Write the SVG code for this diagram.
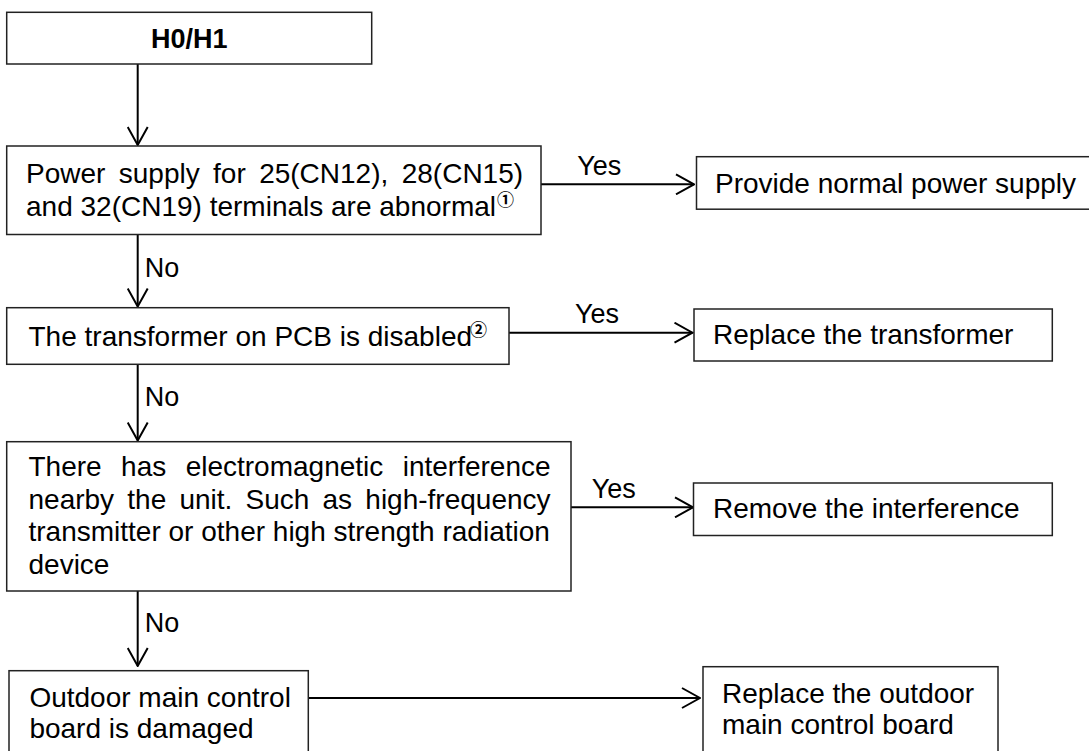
<svg xmlns="http://www.w3.org/2000/svg" width="1089" height="751" viewBox="0 0 1089 751">
<style>
  .box { fill: #ffffff; stroke: #222222; stroke-width: 1.5; }
  .t { font-family: "Liberation Sans", Arial, sans-serif; font-size: 28px; fill: #000000; }
  .tb { font-family: "Liberation Sans", Arial, sans-serif; font-size: 27px; font-weight: bold; fill: #000000; }
  .lbl { font-family: "Liberation Sans", Arial, sans-serif; font-size: 27px; fill: #000000; }
  .sup { font-family: "Noto Sans CJK SC", "DejaVu Sans", sans-serif; font-size: 17px; font-weight: bold; fill: #000000; }
  .conn { fill: none; stroke: #000000; stroke-width: 2; marker-end: url(#arr); }
</style>
<defs>
  <marker id="arr" viewBox="0 0 20 22" refX="19" refY="11" markerWidth="20" markerHeight="22" markerUnits="userSpaceOnUse" orient="auto">
    <path d="M1,1 L19,11 L1,21" fill="none" stroke="#000000" stroke-width="2"/>
  </marker>
</defs>
<rect width="1089" height="751" fill="#ffffff"/>

<g id="connectors">
  <path class="conn" d="M137.7,64 L137.7,145"/>
  <path class="conn" d="M541,184.3 L694,184.3"/>
  <path class="conn" d="M137.7,235 L137.7,306.5"/>
  <path class="conn" d="M509,332.7 L692.5,332.7"/>
  <path class="conn" d="M137.7,364.3 L137.7,440.5"/>
  <path class="conn" d="M571,507.3 L693,507.3"/>
  <path class="conn" d="M137.7,591 L137.7,666"/>
  <path class="conn" d="M308.3,698 L700,698"/>
  <text class="lbl" x="577.3" y="175">Yes</text>
  <text class="lbl" x="144.7" y="277.3">No</text>
  <text class="lbl" x="575" y="323.3">Yes</text>
  <text class="lbl" x="144.7" y="405.7">No</text>
  <text class="lbl" x="591.7" y="498.3">Yes</text>
  <text class="lbl" x="144.7" y="631.7">No</text>
</g>

<g id="start">
  <rect class="box" x="6.7" y="12.3" width="365" height="51.7"/>
  <text class="tb" x="189.2" y="48.3" text-anchor="middle">H0/H1</text>
</g>

<g id="check-power">
  <rect class="box" x="6.7" y="146" width="534.3" height="88.5"/>
  <text class="t" y="183"><tspan x="26">Power</tspan><tspan x="118.75">supply</tspan><tspan x="213.07">for</tspan><tspan x="259.15">25(CN12),</tspan><tspan x="401.69">28(CN15)</tspan></text>
  <text class="t" x="26" y="216">and 32(CN19) terminals are abnormal</text>
  <text class="sup" x="497" y="206">①</text>
</g>

<g id="provide-power">
  <rect class="box" x="696.5" y="156.7" width="400" height="52.5"/>
  <text class="t" x="715" y="193.3">Provide normal power supply</text>
</g>

<g id="check-transformer">
  <rect class="box" x="6.7" y="307.7" width="502.3" height="56.6"/>
  <text class="t" x="28.5" y="346">The transformer on PCB is disabled</text>
  <text class="sup" x="470" y="336">②</text>
</g>

<g id="replace-transformer">
  <rect class="box" x="694" y="309" width="358.3" height="52"/>
  <text class="t" x="713" y="344">Replace the transformer</text>
</g>

<g id="check-interference">
  <rect class="box" x="6.7" y="441.7" width="564.3" height="149.3"/>
  <text class="t" y="476"><tspan x="28.5">There</tspan><tspan x="121.07">has</tspan><tspan x="185.64">electromagnetic</tspan><tspan x="402.69">interference</tspan></text>
  <text class="t" y="508.5"><tspan x="28.5">nearby</tspan><tspan x="127.3">the</tspan><tspan x="179.42">unit.</tspan><tspan x="245.54">Such</tspan><tspan x="322.55">as</tspan><tspan x="365.32">high-frequency</tspan></text>
  <text class="t" x="28.5" y="541">transmitter or other high strength radiation</text>
  <text class="t" x="28.5" y="573.5">device</text>
</g>

<g id="remove-interference">
  <rect class="box" x="693.5" y="483" width="358.8" height="52.5"/>
  <text class="t" x="713" y="518.3">Remove the interference</text>
</g>

<g id="check-board">
  <rect class="box" x="9" y="670.7" width="299.3" height="100"/>
  <text class="t" x="29.4" y="706.7">Outdoor main control</text>
  <text class="t" x="29.4" y="738.3">board is damaged</text>
</g>

<g id="replace-board">
  <rect class="box" x="703" y="666.7" width="295" height="100"/>
  <text class="t" x="722" y="703.3">Replace the outdoor</text>
  <text class="t" x="722" y="734">main control board</text>
</g>
</svg>
